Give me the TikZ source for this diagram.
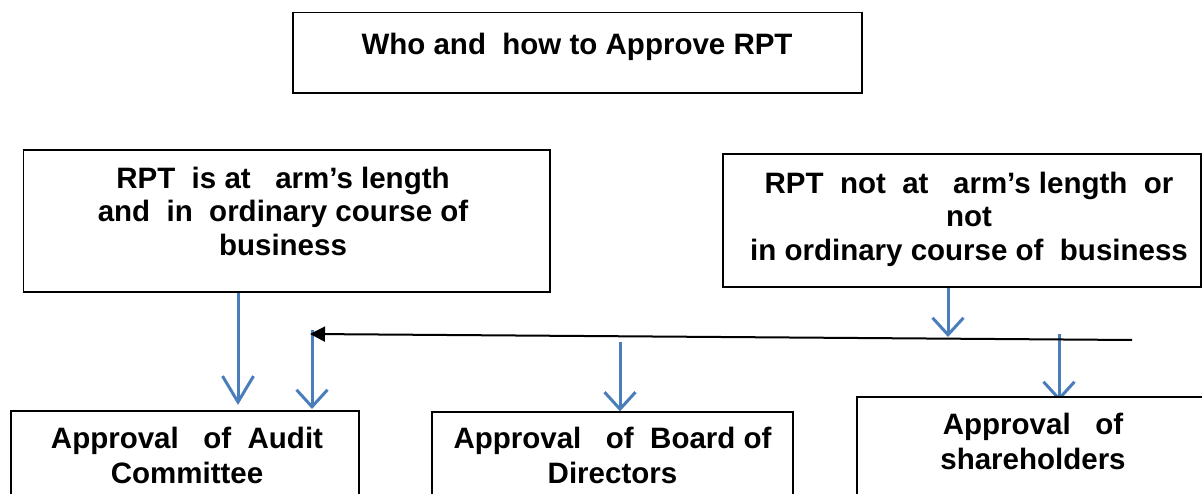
\documentclass[tikz,border=0pt]{standalone}
\usepackage{fontspec}
\setmainfont{Liberation Sans}
\usetikzlibrary{arrows.meta,backgrounds}
\definecolor{arrowblue}{RGB}{74,126,187}
\begin{document}
\begin{tikzpicture}[x=1pt,y=-1pt,
  box/.style={draw=black, line width=1.3pt, fill=white, inner sep=0pt},
  txt/.style={font={\fontsize{29.5}{33.5}\selectfont\bfseries}, align=center, inner sep=0pt},
  txtlow/.style={font={\fontsize{29.5}{35}\selectfont\bfseries}, align=center, inner sep=0pt},
  bluearrow/.style={draw=arrowblue, line width=3pt, -{Straight Barb[length=17pt,width=31pt]}},
  bluearrowlong/.style={draw=arrowblue, line width=3pt, -{Straight Barb[length=26pt,width=31pt]}},
  blackarrow/.style={draw=black, line width=2pt, -{Triangle[length=15pt,width=15pt]}}]
\useasboundingbox (0,0) rectangle (1202,494);
\clip (0,0) rectangle (1202,494);

% boxes
\node[box, minimum width=569pt, minimum height=80.5pt] (title) at (577.5,52.75) {};
\node[box, minimum width=526.5pt, minimum height=142pt] (lbox) at (286.75,221) {};
\node[box, minimum width=478pt, minimum height=133pt] (rbox) at (962,220.5) {};
\node[box, minimum width=348pt, minimum height=109pt] (audit) at (185,465.5) {};
\node[box, minimum width=361pt, minimum height=108pt] (board) at (612.5,466) {};
\node[box, minimum width=350pt, minimum height=123pt] (share) at (1032,458.5) {};

% texts
\node[txt, anchor=base] (titletext) at (577,55) {Who and\ \ how to Approve RPT};
\node[txt, anchor=north] (ltext) at (283,164.5)
  {\strut RPT\ \ is at\ \ \ arm’s length\\
   \strut and\ \ in\ \ ordinary course of\\
   \strut business};
\node[txt, anchor=north] (rtext) at (969,169.5)
  {\strut RPT\ \ not\ \ at\ \ \ arm’s length\ \ or\\
   \strut not\\
   \strut in ordinary course of\ \ business};
\node[txtlow, anchor=north] (atext) at (187,423.5)
  {\strut Approval\ \ \ of\ \ Audit\\ \strut Committee};
\node[txtlow, anchor=north] (btext) at (612.5,423.5)
  {\strut Approval\ \ \ of\ \ Board of\\ \strut Directors};
\node[txtlow, anchor=north] (stext) at (1033,409.5)
  {\strut Approval\ \ \ of\\ \strut shareholders};

% connector end points
\coordinate (a1) at (238,405);
\coordinate (a2s) at (312,330);
\coordinate (a2) at (312,409);
\coordinate (a3s) at (620,342);
\coordinate (a4) at (948,337);
\coordinate (a5s) at (1059,334);
\coordinate (a5) at (1059,401);
\coordinate (k1) at (1132,340);
\coordinate (k2) at (310,334);

\begin{scope}[on background layer]
  \draw[bluearrowlong] (lbox.south -| a1) -- (a1);
  \draw[bluearrow] (a2s) -- (a2);
  \draw[bluearrow] (a3s) -- (board.north -| a3s);
  \draw[bluearrow] (rbox.south -| a4) -- (a4);
  \draw[bluearrow] (a5s) -- (a5);
\end{scope}
\draw[blackarrow] (k1) -- (k2);
\end{tikzpicture}
\end{document}
